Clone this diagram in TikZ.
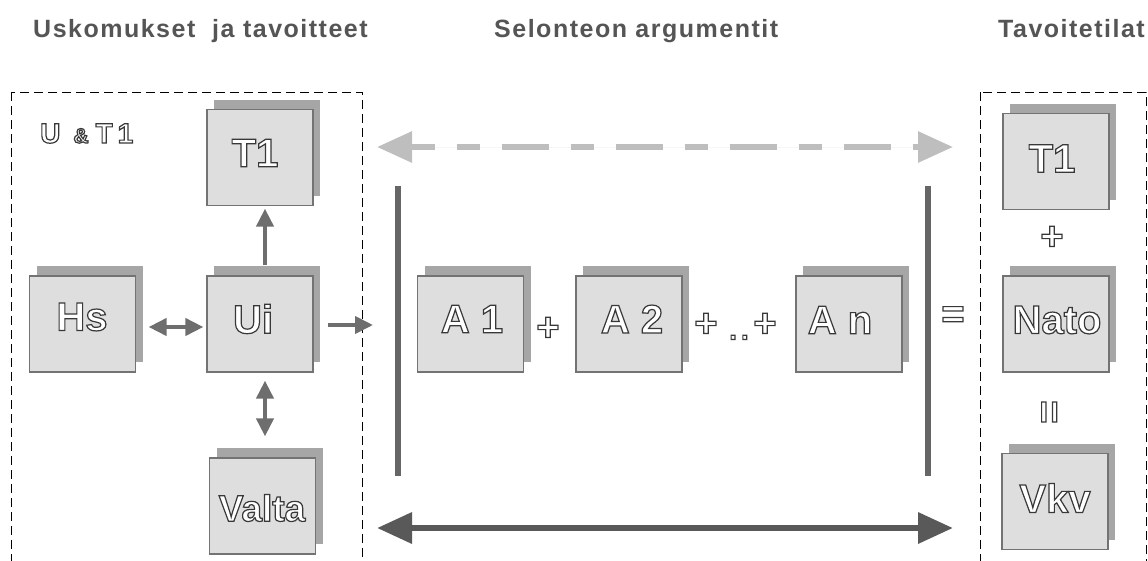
\documentclass[tikz,border=0pt]{standalone}
\usepackage{fontspec}
\setmainfont{Liberation Sans}
\usetikzlibrary{arrows.meta}
\definecolor{frontfill}{HTML}{DEDEDE}
\definecolor{shadowfill}{HTML}{A6A6A6}
\definecolor{boxline}{HTML}{737373}
\definecolor{titlecol}{HTML}{555555}
\definecolor{arrowcol}{HTML}{6E6E6E}
\definecolor{bigcol}{HTML}{595959}
\definecolor{barcol}{HTML}{666666}
\definecolor{dashcol}{HTML}{BEBEBE}
\newcommand\outl[1]{\textcolor{white}{\special{pdf:literal direct 0.22 G 2 Tr 1.2 w}#1\special{pdf:literal direct 0 Tr}}}
\begin{document}
\begin{tikzpicture}[x=1pt,y=-1pt,
  title/.style={inner sep=0, text=titlecol, font=\fontsize{25}{29}\selectfont\bfseries\addfontfeature{LetterSpace=6}},
  frame/.style={draw=black, line width=0.9pt, dash pattern=on 9pt off 5pt},
  gbox/.style={draw=boxline, line width=1.2pt, fill=frontfill, minimum width=106pt, minimum height=96pt, inner sep=0,
     preaction={fill=shadowfill, draw=none, transform canvas={shift={(7pt,10pt)}}}},
  lbl/.style={inner sep=0, font=\fontsize{40}{48}\selectfont\bfseries},
  op/.style={inner sep=0, font=\fontsize{40}{48}\selectfont\bfseries},
  sarr/.style={draw=arrowcol, line width=4pt, >={Triangle[length=18pt,width=17pt]}},
  bigarr/.style={draw=bigcol, line width=6.5pt, {Triangle[length=35pt,width=30pt]}-{Triangle[length=35pt,width=30pt]}},
  dasharr/.style={draw=dashcol, fill=dashcol, line width=6pt, dash pattern=on 47pt off 22pt on 23pt off 22pt, dash phase=23pt,
     {Triangle[length=35pt,width=30pt]}-{Triangle[length=35pt,width=30pt]}},
  bar/.style={draw=barcol, line width=5.5pt}
]
\useasboundingbox (0,0) rectangle (1148,560);

% titles
\node[title, anchor=base west] (t1) at (33,37) {Uskomukset\ \ ja tavoitteet};
\node[title, anchor=base west] (t2) at (494,37) {Selonteon argumentit};
\node[title, anchor=base west] (t3) at (998,37) {Tavoitetilat};

% frames
\draw[frame] (11,92) rectangle (362,590);
\draw[frame] (980,92) rectangle (1146,590);

% U&T1 label
\node[anchor=base west, inner sep=0, font=\bfseries] (ut) at (40,143)
  {\outl{\fontsize{28}{30}\selectfont U\hspace{13pt}{\fontsize{21}{22}\selectfont\&}\hspace{7pt}T\hspace{5pt}1}};

% boxes
\node[gbox] (T1a) at (260,157.5) {};
\node[gbox] (Hs) at (82.5,324) {};
\node[gbox] (Ui) at (260,324) {};
\node[gbox] (Valta) at (262.5,506) {};
\node[gbox] (A1) at (470.5,324) {};
\node[gbox] (A2) at (629,324) {};
\node[gbox] (An) at (849,324) {};
\node[gbox] (T1b) at (1056,161.5) {};
\node[gbox] (Nato) at (1056,324) {};
\node[gbox] (Vkv) at (1055,501.5) {};

% box labels
\node[lbl] (T1a-l) at (255,153) {\outl{T1}};
\node[lbl] (Hs-l) at (82,317) {\outl{Hs}};
\node[lbl] (Ui-l) at (253,319) {\outl{Ui}};
\node[lbl, font=\fontsize{37}{44}\selectfont\bfseries] (Valta-l) at (262,508) {\outl{Valta}};
\node[lbl] (A1-l) at (472,319) {\outl{A 1}};
\node[lbl] (A2-l) at (632,319) {\outl{A 2}};
\node[lbl] (An-l) at (840,320) {\outl{A n}};
\node[lbl] (T1b-l) at (1052,158.5) {\outl{T1}};
\node[lbl] (Nato-l) at (1057,320) {\outl{Nato}};
\node[lbl] (Vkv-l) at (1055,498) {\outl{Vkv}};

% operators
\node[op] (p1) at (548,329) {\outl{+}};
\node[op] (p2) at (706,325) {\outl{+}};
\node[op, anchor=base, font=\fontsize{28}{30}\selectfont\bfseries] (dots) at (739,339.5) {\outl{.\kern4pt.}};
\node[op] (p3) at (765,325) {\outl{+}};
\node[op] (eq) at (953,317) {\outl{=}};
\node[op] (p4) at (1052,238) {\outl{+}};
\node[op, rotate=90] (eq2) at (1052,412) {\outl{=}};

% small arrows
\draw[sarr,->] ([xshift=5pt,yshift=10pt]Ui.north) -- ([xshift=5pt,yshift=-2.5pt]T1a.south);
\draw[sarr,<->] ([xshift=12.5pt,yshift=-3pt]Hs.east) -- ([xshift=-3pt,yshift=-3pt]Ui.west);
\draw[sarr,<->] ([xshift=5pt,yshift=-8pt]Ui.south) -- ([xshift=2.5pt,yshift=21pt]Valta.north);
\coordinate (uiout) at (373,325);
\draw[sarr,->] ([xshift=14pt,yshift=-1pt]Ui.east) -- (uiout);

% bars
\coordinate (lb1) at (398,186);
\coordinate (lb2) at (398,476);
\coordinate (rb1) at (928,186);
\coordinate (rb2) at (928,476);
\draw[bar] (lb1) -- (lb2);
\draw[bar] (rb1) -- (rb2);

% big arrows
\coordinate (dl) at (377,147);
\coordinate (dr) at (953,147);
\draw[dasharr] (dl) -- (dr);
\coordinate (bl) at (377,528);
\coordinate (br) at (953,528);
\draw[bigarr] (bl) -- (br);
\end{tikzpicture}
\end{document}
